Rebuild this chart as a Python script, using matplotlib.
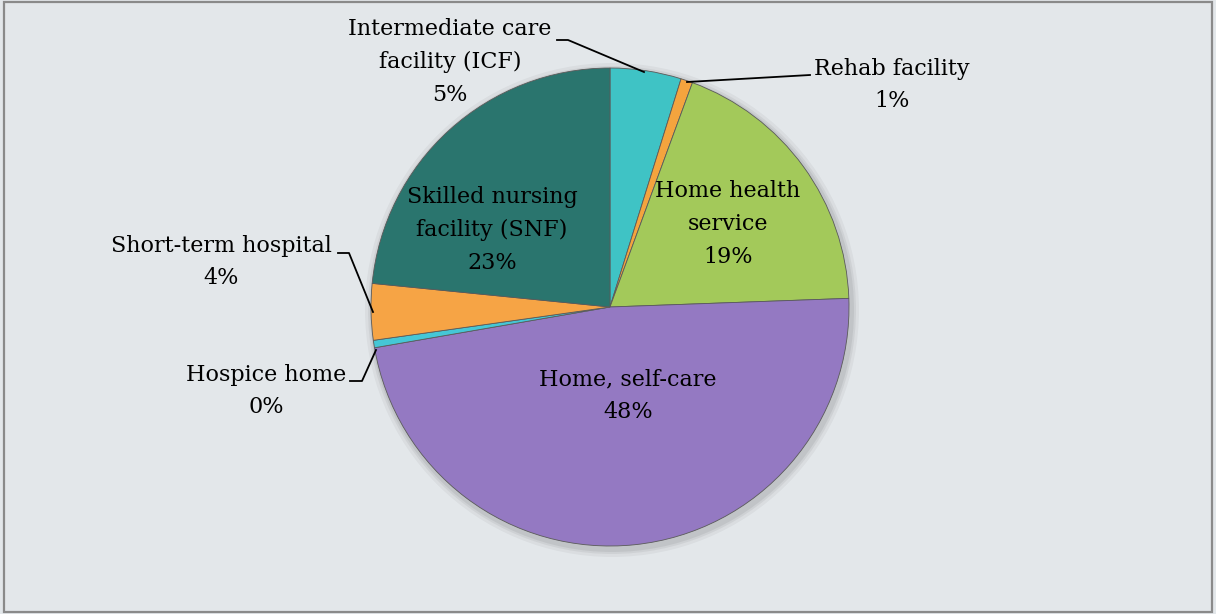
import matplotlib
matplotlib.use("Agg")
import matplotlib.pyplot as plt
from matplotlib.patches import Rectangle, Circle

categories = ["Intermediate care\nfacility (ICF)", "Rehab facility", "Home health\nservice",
              "Home, self-care", "Hospice home", "Short-term hospital",
              "Skilled nursing\nfacility (SNF)"]
values = [4.8, 0.8, 18.8, 47.8, 0.5, 3.8, 23.4]
pct_labels = ["5%", "1%", "19%", "48%", "0%", "4%", "23%"]
colors = ["#3fc3c5", "#f4a43e", "#a3c95a", "#9479c2", "#45c7d6", "#f6a445", "#2a756e"]

W, H = 1216, 614
fig = plt.figure(figsize=(W / 100, H / 100), dpi=100)
fig.patch.set_facecolor("#e3e7ea")
ax = fig.add_axes([0, 0, 1, 1])
ax.set_facecolor("#e3e7ea")

cx, cy, r = 610, H - 307, 239
# soft shadow
for k, a in [(8, 0.04), (5, 0.05), (3, 0.06)]:
    ax.add_patch(Circle((cx + 2, cy - 3), r + k, facecolor="#000000", alpha=a,
                        edgecolor="none", zorder=0))
wedges, _ = ax.pie(values, colors=colors, startangle=90, counterclock=False,
                   center=(cx, cy), radius=r,
                   wedgeprops=dict(edgecolor="#5a5a5a", linewidth=0.6, zorder=1))
ax.set_xlim(0, W)
ax.set_ylim(0, H)
ax.set_aspect("auto")
ax.axis("off")

font = dict(family="DejaVu Serif", fontsize=16, color="black",
            ha="center", va="center", linespacing=1.62)

def Y(y):
    return H - y

# inside labels
ax.text(492, Y(230), categories[6] + "\n" + pct_labels[6], **font)
ax.text(728, Y(224), categories[2] + "\n" + pct_labels[2], **font)
ax.text(628, Y(396), categories[3] + "\n" + pct_labels[3], **font)

# outside labels
ax.text(450, Y(62), categories[0] + "\n" + pct_labels[0], **font)
ax.text(892, Y(85), categories[1] + "\n" + pct_labels[1], **font)
ax.text(221, Y(262), categories[5] + "\n" + pct_labels[5], **font)
ax.text(266, Y(391), categories[4] + "\n" + pct_labels[4], **font)

# leader lines
lk = dict(color="black", linewidth=1.3)
ax.plot([557, 568, 644], [Y(40), Y(40), Y(72)], **lk)
ax.plot([810, 687], [Y(75), Y(82)], **lk)
ax.plot([338, 349, 373], [Y(253), Y(253), Y(312)], **lk)
ax.plot([350, 362, 376], [Y(381), Y(381), Y(350)], **lk)

fig.patches.append(Rectangle((0.003, 0.004), 0.994, 0.993, transform=fig.transFigure,
                             fill=False, edgecolor="#8a8a8a", linewidth=1.6))

fig.savefig("out.png", dpi=100, facecolor=fig.get_facecolor())
